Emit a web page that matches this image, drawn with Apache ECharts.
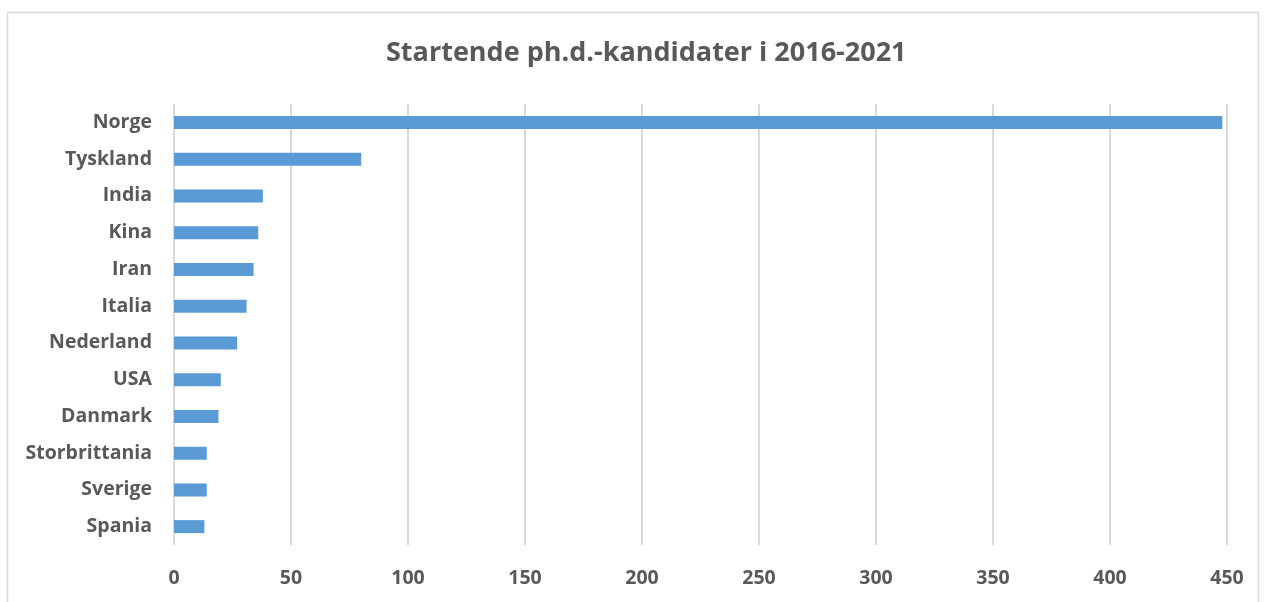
<!DOCTYPE html>
<html>
<head>
<meta charset="utf-8">
<script src="https://cdn.jsdelivr.net/npm/echarts@6/dist/echarts.min.js"></script>
<style>
  html, body { margin: 0; padding: 0; background: #fff; }
  #view { width: 1268px; height: 602px; }
</style>
</head>
<body>
<div id="view"></div>
<script>
let countries = ["Norge", "Tyskland", "India", "Kina", "Iran", "Italia", "Nederland", "USA", "Danmark", "Storbrittania", "Sverige", "Spania"];
let starters = [448, 80, 38, 36, 34, 31, 27, 20, 19, 14, 14, 13];
let xTicks = [0, 50, 100, 150, 200, 250, 300, 350, 400, 450];

let myChart = echarts.init(document.getElementById("view"));
let font = "'Open Sans', sans-serif";

let option = {
  backgroundColor: "#ffffff",
  animation: false,
  title: {
    text: "Startende ph.d.-kandidater i 2016-2021",
    left: 381,
    top: 35,
    textStyle: { fontFamily: font, fontSize: 27, fontWeight: "bold", color: "#595959" },
  },
  graphic: [
    {
      type: "rect",
      shape: { x: 7.5, y: 12.5, width: 1251, height: 600 },
      style: { fill: "none", stroke: "#d9d9d9", lineWidth: 1.5 },
      silent: true,
    },
  ],
  grid: { left: 174, right: 41, top: 104, bottom: 57 },
  xAxis: {
    type: "value",
    min: xTicks[0],
    max: xTicks[xTicks.length - 1],
    interval: 50,
    axisLine: { show: false },
    axisTick: { show: false },
    splitLine: { lineStyle: { color: "#d9d9d9", width: 2 } },
    axisLabel: { fontFamily: font, fontSize: 19.5, fontWeight: "bold", color: "#595959", margin: 23 },
  },
  yAxis: {
    type: "category",
    inverse: true,
    data: countries,
    axisLine: { show: false },
    axisTick: { show: false },
    axisLabel: { fontFamily: font, fontSize: 19.5, fontWeight: "bold", color: "#595959", margin: 22, padding: [0, 0, -4, 0] },
  },
  series: [
    {
      type: "bar",
      data: starters,
      barWidth: 13,
      itemStyle: { color: "#5b9bd5" },
    },
  ],
};
myChart.setOption(option);
</script>
</body>
</html>
